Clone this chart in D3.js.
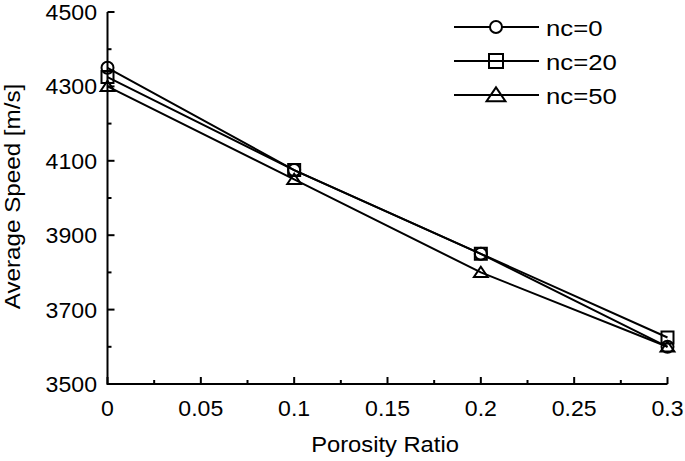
<!DOCTYPE html>
<html><head><meta charset="utf-8">
<script src="https://cdn.jsdelivr.net/npm/d3@7"></script>
<style>body{margin:0;background:#fff}svg{display:block}text{font-family:"Liberation Sans",Arial,sans-serif;fill:#000}</style>
</head><body><svg id="c" width="685" height="461"></svg>
<script>
const porosity = [0, 0.1, 0.2, 0.3];
const nc0  = [4350, 4075, 3850, 3600];
const nc20 = [4325, 4075, 3850, 3625];
const nc50 = [4300, 4050, 3800, 3600];
const seriesNames = ["nc=0", "nc=20", "nc=50"];
const seriesMarkers = ["circle", "square", "triangle"];
const xTicks = [0, 0.05, 0.1, 0.15, 0.2, 0.25, 0.3];
const xTickLabels = ["0", "0.05", "0.1", "0.15", "0.2", "0.25", "0.3"];
const yTicks = [3500, 3700, 3900, 4100, 4300, 4500];
const xLabel = "Porosity Ratio";
const yLabel = "Average Speed [m/s]";

const series = [nc0, nc20, nc50].map((v, i) => ({name: seriesNames[i], marker: seriesMarkers[i], values: v}));

const svg = d3.select("#c");
const x = d3.scaleLinear().domain([0, 0.3]).range([107.5, 667.5]);
const y = d3.scaleLinear().domain([3500, 4500]).range([384, 12]);

function markerPath(type, s) {
  if (type === "circle") return d3.symbol(d3.symbolCircle, Math.PI * s * s)();
  if (type === "square") return `M${-s},${-s}H${s}V${s}H${-s}Z`;
  const h = s * 1.7;
  return `M0,${-h * 0.55}L${s * 1.15},${h * 0.45}L${-s * 1.15},${h * 0.45}Z`;
}

// axes
const gx = svg.append("g").attr("transform", `translate(0,${y(3500)})`);
gx.append("line").attr("x1", x(0)).attr("x2", x(0.3)).attr("stroke", "#000").attr("stroke-width", 2);
const xMinor = d3.range(0.025, 0.3, 0.05);
gx.selectAll(".xt").data(xTicks).join("line").attr("x1", d => x(d)).attr("x2", d => x(d)).attr("y1", 0).attr("y2", -7).attr("stroke", "#000").attr("stroke-width", 2);
gx.selectAll(".xm").data(xMinor).join("line").attr("x1", d => x(d)).attr("x2", d => x(d)).attr("y1", 0).attr("y2", -4).attr("stroke", "#000").attr("stroke-width", 2);
gx.selectAll(".xl").data(xTicks).join("text")
  .attr("transform", d => `translate(${x(d)},32) scale(1.05,1)`)
  .attr("text-anchor", "middle").attr("font-size", 22)
  .text((d, i) => xTickLabels[i]);

const gy = svg.append("g").attr("transform", `translate(${x(0)},0)`);
gy.append("line").attr("y1", y(3500) + 1).attr("y2", y(4500)).attr("stroke", "#000").attr("stroke-width", 2);
const yMinor = d3.range(3600, 4500, 200);
gy.selectAll(".yt").data(yTicks).join("line").attr("y1", d => y(d)).attr("y2", d => y(d)).attr("x1", 0).attr("x2", 7).attr("stroke", "#000").attr("stroke-width", 2);
gy.selectAll(".ym").data(yMinor).join("line").attr("y1", d => y(d)).attr("y2", d => y(d)).attr("x1", 0).attr("x2", 4).attr("stroke", "#000").attr("stroke-width", 2);
gy.selectAll(".yl").data(yTicks).join("text")
  .attr("transform", d => `translate(-10.5,${y(d) + 8}) scale(1.05,1)`)
  .attr("text-anchor", "end").attr("font-size", 22)
  .text(d => d);

svg.append("text").attr("transform", `translate(385,452) scale(1.08,1)`).attr("text-anchor", "middle").attr("font-size", 22).text(xLabel);
svg.append("text").attr("transform", `translate(20,196.5) rotate(-90) scale(1.1,1)`).attr("text-anchor", "middle").attr("font-size", 22).text(yLabel);

// lines and markers
const line = d3.line().x((d, i) => x(porosity[i])).y(d => y(d));
series.forEach(s => {
  svg.append("path").attr("d", line(s.values)).attr("fill", "none").attr("stroke", "#000").attr("stroke-width", 2);
  svg.selectAll(null).data(s.values).join("path")
    .attr("transform", (d, i) => `translate(${x(porosity[i])},${y(d)})`)
    .attr("d", markerPath(s.marker, 6))
    .attr("fill", "none").attr("stroke", "#000").attr("stroke-width", 2);
});

// legend
const legY = [27, 61, 95];
const leg = svg.append("g");
series.forEach((s, i) => {
  const g = leg.append("g").attr("transform", `translate(0,${legY[i]})`);
  g.append("line").attr("x1", 454).attr("x2", 539).attr("stroke", "#000").attr("stroke-width", 2);
  g.append("path").attr("transform", "translate(496,0)")
    .attr("d", markerPath(s.marker, s.marker === "circle" ? 6 : s.marker === "square" ? 7 : 8.2))
    .attr("fill", s.marker === "circle" ? "#fff" : "none").attr("stroke", "#000").attr("stroke-width", 2);
  g.append("text").attr("transform", `translate(546,8.5) scale(1.12,1)`).attr("font-size", 23).text(s.name);
});
</script></body></html>
